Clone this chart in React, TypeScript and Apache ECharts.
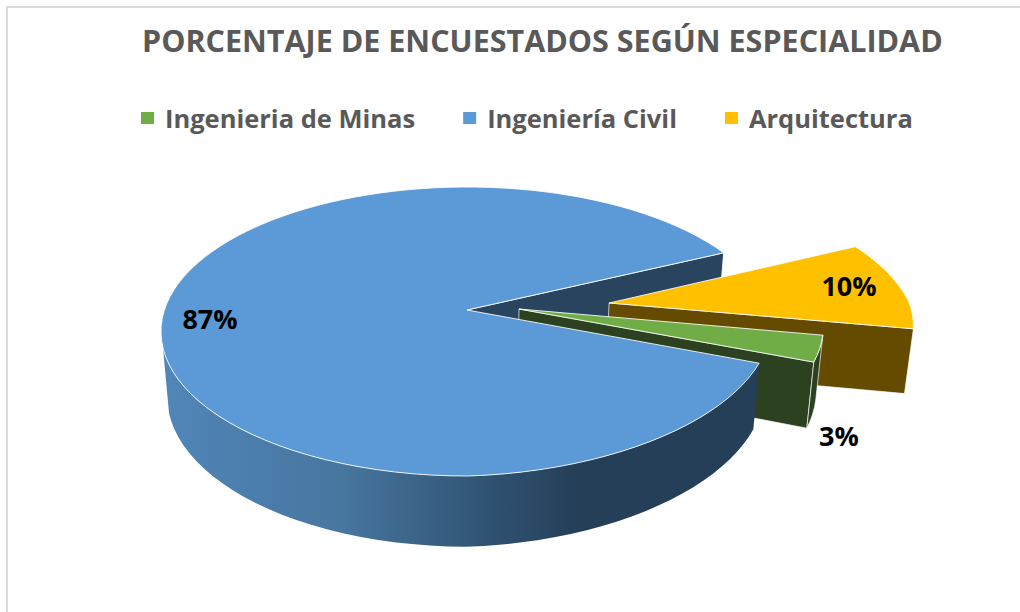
import React, { useEffect, useRef } from "react";
import * as echarts from "echarts";

const titleText = "PORCENTAJE DE ENCUESTADOS SEGÚN ESPECIALIDAD";
const minasName = "Ingenieria de Minas";
const civilName = "Ingeniería Civil";
const arqName = "Arquitectura";
const minasValue = [3];
const civilValue = [87];
const arqValue = [10];

const FONT = "'Open Sans', sans-serif";
const CX = 467, CY = 310, K = 302.6, Q = 141.3, P = 0.149;
const SQUEEZE = 0.055;
const START = -25.5;
const STEP = 3;

const arqStart = START;
const arqEnd = arqStart + arqValue[0] * 3.6;
const minasEnd = arqEnd + minasValue[0] * 3.6;
const civilEnd = minasEnd + civilValue[0] * 3.6;

type Pt = [number, number];
const rad = (d: number) => (d * Math.PI) / 180;
const proj = (X: number, Y: number): Pt => {
  const w = 1 - P * Y;
  return [CX + (K * X) / w, CY + (Q * Y) / w];
};
const under = (p: Pt): Pt => [CX + 0.98 * (p[0] - CX), CY + 64 + 1.04 * (p[1] - CY)];
const rimPt = (a: number, o: Pt) => {
  const c = Math.cos(rad(a));
  const s = Math.sin(rad(a));
  const r = 1 - SQUEEZE * Math.max(0, c) * Math.max(0, s);
  return proj(r * c + o[0], r * s + o[1]);
};
const arc = (a0: number, a1: number, o: Pt): Pt[] => {
  const n = Math.max(2, Math.ceil(Math.abs(a1 - a0) / STEP));
  const out: Pt[] = [];
  for (let i = 0; i <= n; i++) out.push(rimPt(a0 + ((a1 - a0) * i) / n, o));
  return out;
};
const topFace = (a0: number, a1: number, o: Pt): Pt[] => [proj(o[0], o[1]), ...arc(a0, a1, o)];
const cutFace = (a: number, o: Pt): Pt[] => {
  const c = proj(o[0], o[1]);
  const e = rimPt(a, o);
  return [c, e, under(e), under(c)];
};
const rimFace = (a0: number, a1: number, o: Pt): Pt[] => {
  const t = arc(a0, a1, o);
  return [...t, ...t.map(under).reverse()];
};
const poly = (points: Pt[], fill: any, lineWidth = 1, stroke: string = "rgba(255,255,255,0.85)") => ({
  type: "polygon",
  silent: true,
  shape: { points },
  style: { fill, stroke, lineWidth, lineJoin: "round" },
});
const label = (text: string, x: number, y: number) => ({
  type: "text",
  silent: true,
  style: { x, y, text, fill: "#000000", font: `700 27px ${FONT}`, align: "center", verticalAlign: "middle" },
});

const ARQ_OFF: Pt = [0.473, -0.05];
const MINAS_OFF: Pt = [0.172, -0.007];
const CIVIL_OFF: Pt = [0, 0];

const renderBack = () => ({
  type: "group",
  children: [poly(cutFace(civilEnd, CIVIL_OFF), "#28445f")],
});
const renderArq = (_: any, api: any) => ({
  type: "group",
  children: [
    poly(cutFace(arqEnd, ARQ_OFF), "#654b00", 0.8),
    poly(topFace(arqStart, arqEnd, ARQ_OFF), "#ffc000"),
    label(`${api.value(0)}%`, 849, 285),
  ],
});
const renderMinas = (_: any, api: any) => ({
  type: "group",
  children: [
    poly(cutFace(minasEnd, MINAS_OFF), "#2c4120", 0.8),
    poly(rimFace(arqEnd, minasEnd, MINAS_OFF), "#2c4120", 0.8),
    poly(topFace(arqEnd, minasEnd, MINAS_OFF), "#70ad47"),
    label(`${api.value(0)}%`, 839, 435),
  ],
});
const wallFill = new echarts.graphic.LinearGradient(0, 0, 1, 0, [
  { offset: 0, color: "#5186b9" },
  { offset: 0.3, color: "#47769f" },
  { offset: 0.55, color: "#2f5272" },
  { offset: 0.7, color: "#243f57" },
  { offset: 1, color: "#243f57" },
]);
const renderCivil = (_: any, api: any) => ({
  type: "group",
  children: [
    poly(rimFace(minasEnd, 165, CIVIL_OFF), wallFill, 0),
    poly(topFace(minasEnd, civilEnd, CIVIL_OFF), "#5b9ad6"),
    label(`${api.value(0)}%`, 210, 318),
  ],
});

export default function App() {
  const ref = useRef<HTMLDivElement>(null);
  useEffect(() => {
    document.body.style.margin = "0";
    document.body.style.background = "#ffffff";
    const chart = echarts.init(ref.current!, undefined, { renderer: "svg" });
    chart.setOption({
      animation: false,
      backgroundColor: "#ffffff",
      title: {
        text: titleText,
        left: 142,
        top: 24,
        padding: 0,
        textStyle: { fontFamily: FONT, fontSize: 30.5, fontWeight: 700, color: "#595959" },
      },
      legend: {
        data: [minasName, civilName, arqName],
        left: 141,
        top: 105,
        padding: 0,
        itemWidth: 13,
        itemHeight: 12,
        itemGap: 48,
        icon: "rect",
        selectedMode: false,
        textStyle: { fontFamily: FONT, fontSize: 25.5, fontWeight: 700, color: "#595959", padding: [0, 0, 0, 6] },
      },
      graphic: [
        { type: "rect", silent: true, shape: { x: 6, y: 6, width: 1014, height: 2 }, style: { fill: "#dcdcdc" } },
        { type: "rect", silent: true, shape: { x: 6, y: 6, width: 2, height: 606 }, style: { fill: "#dcdcdc" } },
      ],
      series: [
        { type: "custom", name: "cara", coordinateSystem: "none", z: 1, data: [civilValue], renderItem: renderBack, silent: true, itemStyle: { color: "#28445f" } },
        { type: "custom", name: arqName, coordinateSystem: "none", z: 2, data: [arqValue], renderItem: renderArq, silent: true, itemStyle: { color: "#ffc000" } },
        { type: "custom", name: minasName, coordinateSystem: "none", z: 3, data: [minasValue], renderItem: renderMinas, silent: true, itemStyle: { color: "#70ad47" } },
        { type: "custom", name: civilName, coordinateSystem: "none", z: 4, data: [civilValue], renderItem: renderCivil, silent: true, itemStyle: { color: "#5b9ad6" } },
      ],
    });
    return () => chart.dispose();
  }, []);
  return <div ref={ref} style={{ width: 1020, height: 612 }} />;
}
